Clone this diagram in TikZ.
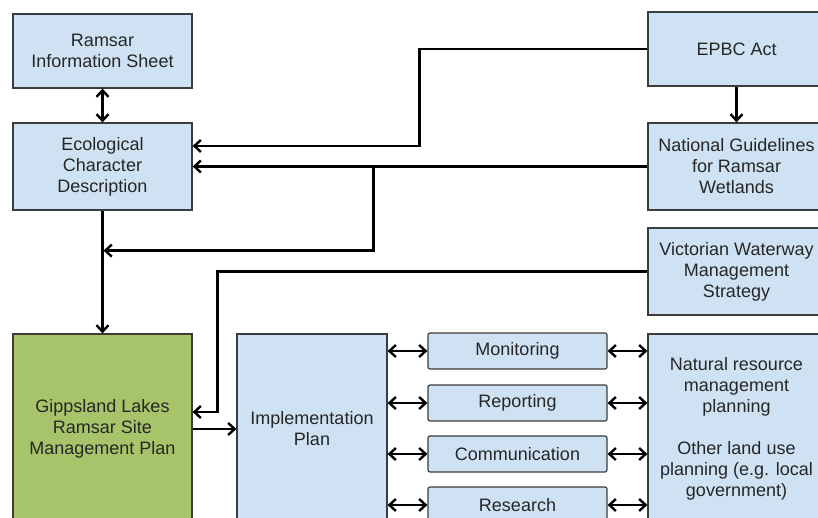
\documentclass[tikz,border=0pt]{standalone}
\usepackage{fontspec}
\setmainfont{Liberation Sans}
\usetikzlibrary{positioning,arrows.meta}

\definecolor{planblue}{HTML}{CFE2F3}
\definecolor{plangreen}{HTML}{A8C46B}
\definecolor{boxline}{HTML}{3C3C3C}

\begin{document}
\begin{tikzpicture}[>={Straight Barb[length=6.5pt,width=12pt]}, on grid, line width=2.4pt,
    font=\fontsize{18}{21}\selectfont,
    doc/.style={draw=boxline, fill=planblue, line width=1.2pt, align=center, inner sep=0pt, text=black!85},
    plan/.style={doc, minimum width=179pt, minimum height=87pt},
    tall/.style={doc, minimum height=190pt},
    task/.style={doc, rounded corners=2pt, minimum width=179pt, minimum height=36pt}]
  \useasboundingbox (0,0) rectangle (818pt,-518pt);
  \clip (0,0) rectangle (818pt,-518pt);

  % left column
  \node[plan, minimum height=74pt] (ris) at (102.5pt,-51pt) {Ramsar\\Information Sheet};
  \node[plan]                      (ecd) [below=115.5pt of ris] {Ecological\\Character\\Description};
  \node[tall, fill=plangreen, minimum width=179pt] (glp) [below=262.5pt of ecd] {Gippsland Lakes\\Ramsar Site\\Management Plan};
  \node[tall, minimum width=150pt] (ip)  [right=209.5pt of glp] {Implementation\\Plan};

  % right column
  \node[plan, minimum width=177pt, minimum height=74pt] (epbc) at (736.5pt,-49pt) {EPBC Act};
  \node[plan, minimum width=177pt] (natg) [below=117.5pt of epbc] {National Guidelines\\for Ramsar\\Wetlands};
  \node[plan, minimum width=177pt] (vwms) [below=105pt of natg] {Victorian Waterway\\Management\\Strategy};
  \node[tall, minimum width=177pt] (nrm)  [below=157.5pt of vwms] {Natural resource\\management\\planning\\[21pt]Other land use\\planning (e.g. local\\government)};

  % implementation tasks
  \node[task] (mon) [above right=78pt and 205.5pt of ip] {Monitoring};
  \node[task] (rep) [below=52pt of mon] {Reporting};
  \node[task] (com) [below=51pt of rep] {Communication};
  \node[task] (res) [below=51pt of com] {Research};

  \draw[<->] (ris) -- (ecd);
  \draw[->] (epbc) -- (natg);
  \draw[->] (epbc.west) -- ++(-228pt,0) |- ([yshift=20.5pt]ecd.east);
  \draw[->] (natg) -- (ecd);
  \coordinate (split) at ([xshift=-274pt]natg.west);
  \coordinate (join) at ([xshift=1pt,yshift=-40pt]ecd.south);
  \draw[->] (split) |- (join);
  \draw[->] (ecd) -- (glp);
  \draw[->] (vwms.west) -- ++(-430pt,0) |- ([yshift=17pt]glp.east);
  \draw[->] (glp) -- (ip);
  \foreach \task in {mon,rep,com,res}{
    \draw[<->] (ip.east |- \task) -- (\task.west);
    \draw[<->] (\task.east) -- (nrm.west |- \task);
  }
\end{tikzpicture}
\end{document}
